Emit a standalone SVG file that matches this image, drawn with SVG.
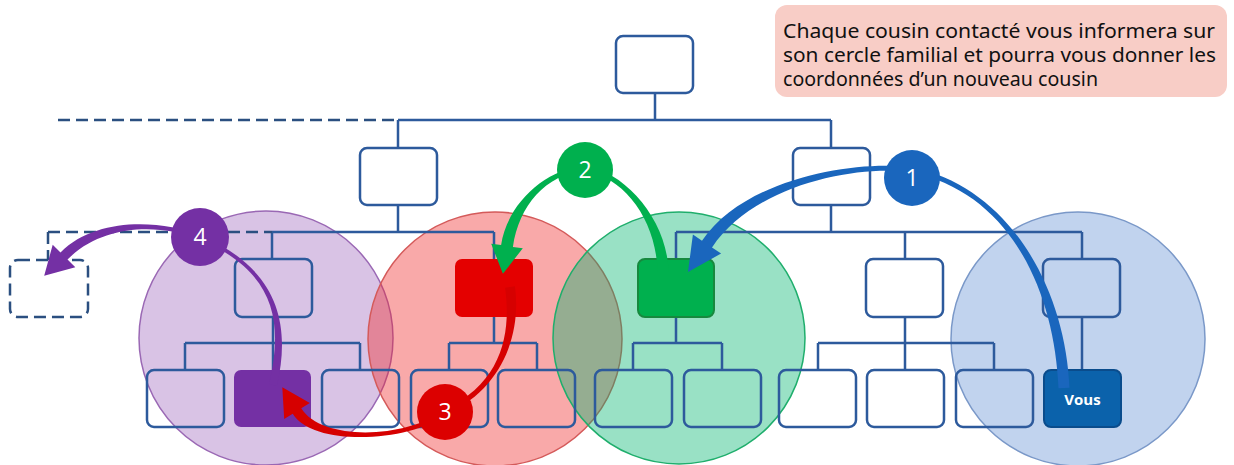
<svg xmlns="http://www.w3.org/2000/svg" width="1234" height="465" viewBox="0 0 1234 465">
<style>
.ln{stroke:#2d5a9c;stroke-width:2.5;fill:none}
.dash{stroke:#2b4f80;stroke-width:2.5;fill:none;stroke-dasharray:12 6}
.bx{stroke:#2d5a9c;stroke-width:2.5;fill:none}
.num{font-family:"Open Sans","Liberation Sans",sans-serif;font-size:23px;fill:#fff;text-anchor:middle}
.note{font-family:"Noto Sans","Lato",sans-serif;font-size:19px;fill:#111}
</style>
<rect width="1234" height="465" fill="#fff"/>
<g id="circles">
<circle cx="266" cy="338" r="127" fill="rgb(120,40,160)" fill-opacity="0.28" stroke="#9a68b4" stroke-width="1.5"/>
<circle cx="495" cy="339" r="127" fill="rgb(240,40,40)" fill-opacity="0.4" stroke="#d45a5a" stroke-width="1.5"/>
<circle cx="679" cy="338" r="126" fill="rgb(0,180,110)" fill-opacity="0.4" stroke="#1fae6c" stroke-width="1.5"/>
<circle cx="1078" cy="339" r="127" fill="rgb(50,110,200)" fill-opacity="0.3" stroke="#7a98c8" stroke-width="1.5"/>
</g>
<g id="connectors">
<path class="ln" d="M655 93V120M398 120H831M398 120V148M831 120V148"/>
<path class="dash" d="M58 120H398"/>
<path class="ln" d="M398 205V232M272 232H494M272 232V259M494 232V259"/>
<path class="dash" d="M48 232H272M48 232V260"/>
<path class="ln" d="M831 205V232M676 232H1082M676 232V259M905 232V259M1082 232V259"/>
<path class="ln" d="M273 317V343M185 343H360M185 343V370M273 343V370M360 343V370"/>
<path class="ln" d="M494 317V343M449 343H537M449 343V370M537 343V370"/>
<path class="ln" d="M676 317V343M633 343H722M633 343V370M722 343V370"/>
<path class="ln" d="M905 317V343M818 343H994M818 343V370M905 343V370M994 343V370"/>
<path class="ln" d="M1082 317V370"/>
</g>
<g id="n-top"><rect class="bx" x="616" y="36" width="77" height="57" rx="7"/></g>
<g id="n-l2-left"><rect class="bx" x="360" y="148" width="77" height="57" rx="7"/></g>
<g id="n-l2-right"><rect class="bx" x="793" y="148" width="77" height="57" rx="7"/></g>
<g id="n-dashed"><rect class="dash" x="10" y="260" width="78" height="57" rx="8"/></g>
<g id="n-l3-1"><rect class="bx" x="235" y="259" width="77" height="58" rx="7"/></g>
<g id="n-l3-red"><rect x="455" y="259" width="78" height="58" rx="7" fill="#e40000"/></g>
<g id="n-l3-green"><rect x="638" y="259" width="76" height="58" rx="7" fill="#00b04e" stroke="#17893e" stroke-width="2"/></g>
<g id="n-l3-4"><rect class="bx" x="866" y="259" width="77" height="58" rx="7"/></g>
<g id="n-l3-5"><rect class="bx" x="1043" y="259" width="77" height="58" rx="7"/></g>
<g id="n-l4-1"><rect class="bx" x="147" y="370" width="77" height="57" rx="7"/></g>
<g id="n-l4-purple"><rect x="234" y="370" width="77" height="57" rx="7" fill="#7430a4"/></g>
<g id="n-l4-3"><rect class="bx" x="322" y="370" width="77" height="57" rx="7"/></g>
<g id="n-l4-4"><rect class="bx" x="411" y="370" width="77" height="57" rx="7"/></g>
<g id="n-l4-5"><rect class="bx" x="498" y="370" width="77" height="57" rx="7"/></g>
<g id="n-l4-6"><rect class="bx" x="595" y="370" width="77" height="57" rx="7"/></g>
<g id="n-l4-7"><rect class="bx" x="684" y="370" width="77" height="57" rx="7"/></g>
<g id="n-l4-8"><rect class="bx" x="779" y="370" width="77" height="57" rx="7"/></g>
<g id="n-l4-9"><rect class="bx" x="867" y="370" width="77" height="57" rx="7"/></g>
<g id="n-l4-10"><rect class="bx" x="956" y="370" width="77" height="57" rx="7"/></g>
<g id="n-vous"><rect x="1044" y="370" width="77" height="57" rx="7" fill="#0b62ab" stroke="#0a4c8c" stroke-width="2"/>
<text x="1082.5" y="405" font-family="'Open Sans','Liberation Sans',sans-serif" font-size="15" font-weight="bold" fill="#fff" text-anchor="middle">Vous</text></g>
<g id="arrows">
<path fill="#1a66bd" d="M1069.5 387.8C1065.5 289.8 1010.5 187.5 912.5 167.5C860.4 159.5 745 176.7 702 240.7L692.9 234.5L688 272L721.1 253.5L712 247.4C755 183.4 859.6 164.5 911.6 172.5C1009.5 192.5 1054.5 290.2 1058.5 388.2Z"/>
<path fill="#00b04e" d="M668.5 271.9C667.5 219.9 625.4 172.5 585.4 165.5L584.75 165.5C544.75 169.5 507.1 204.1 501.1 245.1L491.2 243.7L502.9 273.7L522.8 248.3L512.9 246.9C518.9 205.9 545.25 174.5 585.25 170.5L584.6 170.5C624.6 177.5 656.5 220.1 657.5 272.1Z"/>
<path fill="#d60000" d="M505.05 287.7C511.05 330.7 503.97 382.7 443.97 409.7L443.44 410.05C408.44 438.05 322.26 442.37 301.26 408.37L309.8 403.1L282.3 387.2L284.2 418.9L292.74 413.63C313.74 447.63 411.56 441.95 446.56 413.95L446.03 414.3C506.03 387.3 520.95 329.3 514.95 286.3Z"/>
<path fill="#7430a4" d="M276.9 385.9C291.9 320.9 275.8 268.2 200.8 235.2L200.7 235.1C160.7 220.1 96.5 216.5 60.5 252.5L52.7 244.7L44.2 275.8L75.3 267.3L67.5 259.5C103.5 223.5 159.3 223.9 199.3 238.9L199.2 238.8C274.2 271.8 284.1 319.1 269.1 384.1Z"/>
</g>
<g id="badge-1"><circle cx="912" cy="178" r="28" fill="#1a66bd"/><text class="num" x="912" y="186">1</text></g>
<g id="badge-2"><circle cx="585" cy="170" r="28" fill="#00b04e"/><text class="num" x="585" y="178">2</text></g>
<g id="badge-3"><circle cx="445" cy="412" r="28" fill="#dc0000"/><text class="num" x="445" y="420">3</text></g>
<g id="badge-4"><circle cx="200" cy="237" r="29" fill="#7430a4"/><text class="num" x="200" y="245">4</text></g>
<g id="note">
<rect x="775" y="5" width="452" height="92" rx="12" fill="#f8cdc6"/>
<text class="note" x="783" y="38" textLength="432" lengthAdjust="spacingAndGlyphs">Chaque cousin contacté vous informera sur</text>
<text class="note" x="783" y="62" textLength="433" lengthAdjust="spacingAndGlyphs">son cercle familial et pourra vous donner les</text>
<text class="note" x="783" y="86" textLength="315" lengthAdjust="spacingAndGlyphs">coordonnées d’un nouveau cousin</text>
</g>
</svg>
